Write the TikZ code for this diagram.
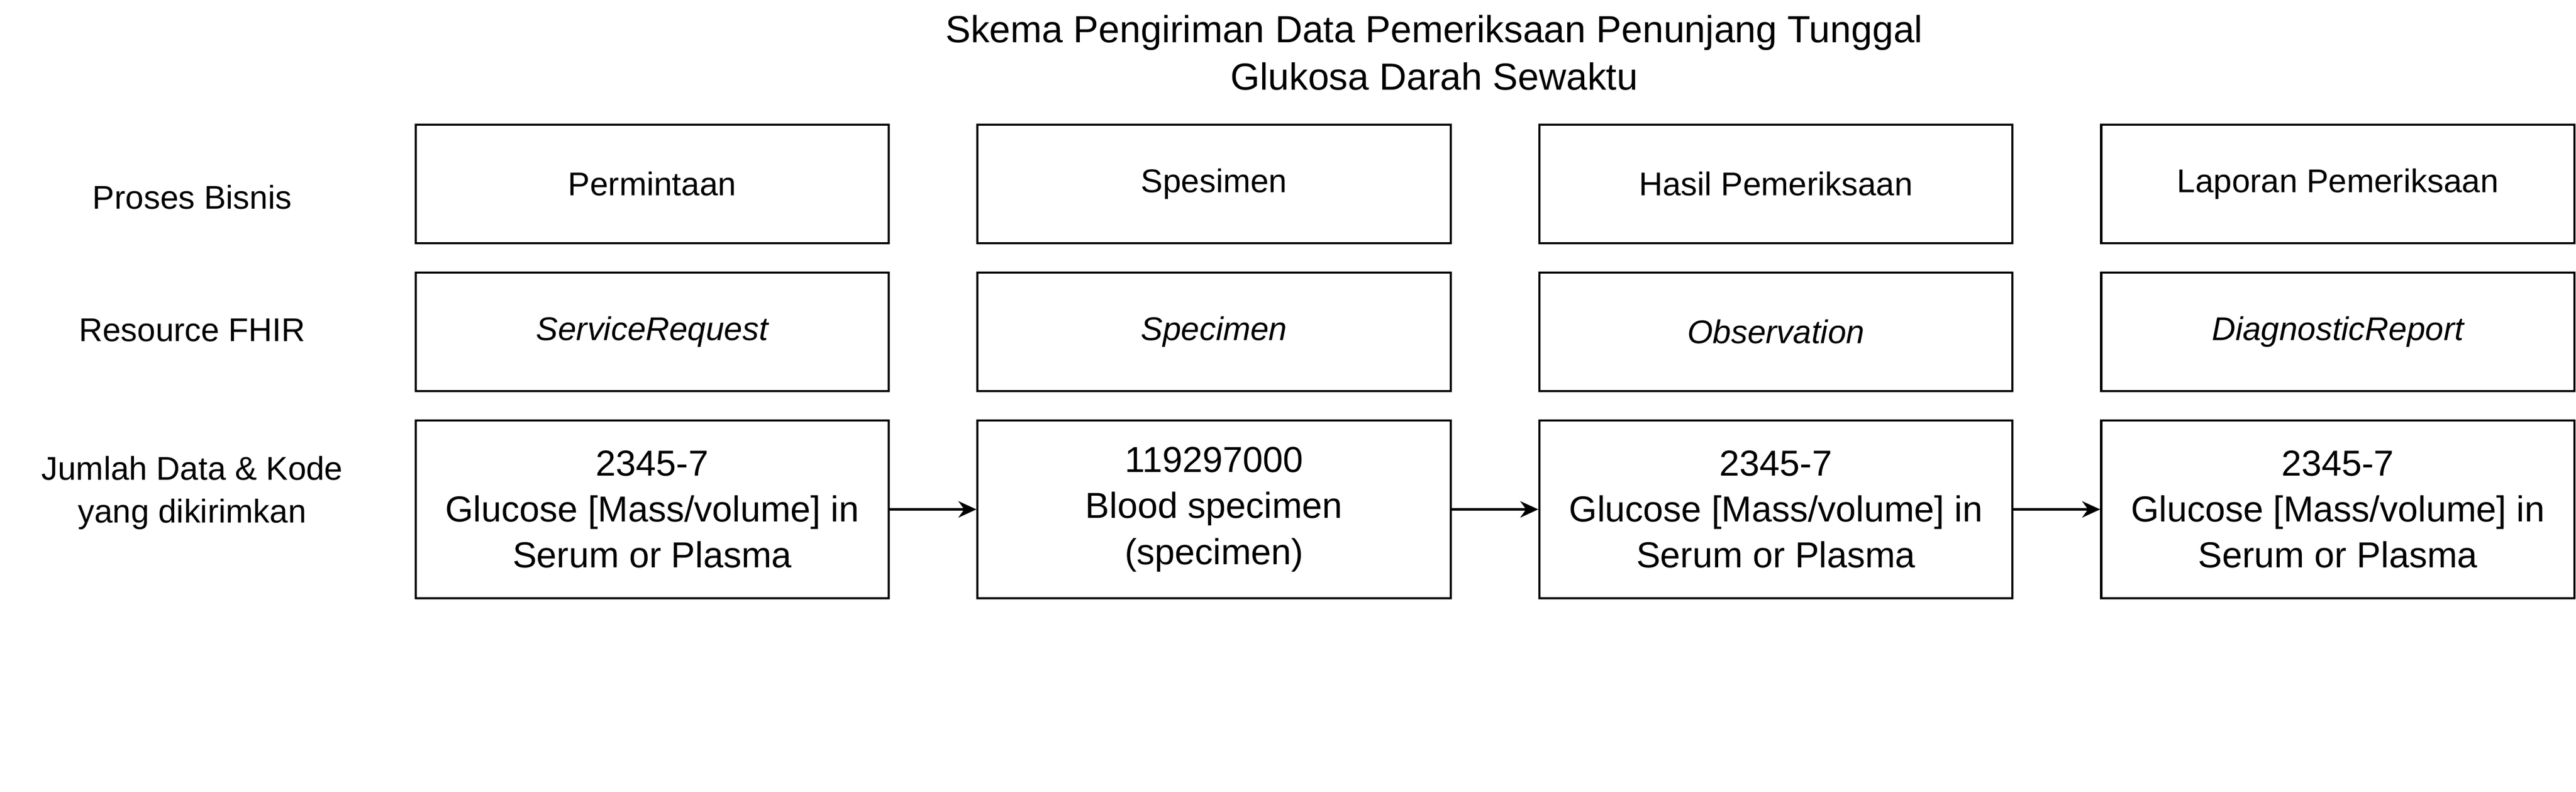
\documentclass[tikz,border=0pt]{standalone}
\usepackage{fontspec}
\setmainfont{Liberation Sans}
\usetikzlibrary{arrows.meta}
\begin{document}
\begin{tikzpicture}[x=1pt, y=-1pt,
        % styles
        cell/.style = {
                rectangle, draw=black, line width=1.3pt,
                minimum width=288pt, minimum height=72pt,
                text centered, font=\fontsize{20}{24}\selectfont
            },
        datacell/.style = {
                cell, minimum height=108pt, align=center,
                font=\fontsize{22}{28}\selectfont
            },
        rowlabel/.style = {
                align=center, font=\fontsize{20}{26}\selectfont
            },
        arrow/.style = {
                line width=1.3pt, -{Stealth[length=11pt,width=10pt]}
            }]
    \useasboundingbox (0,0) rectangle (1568,482);

    \node (title) [align=center, font=\fontsize{23}{29}\selectfont] at (873,32)
        {Skema Pengiriman Data Pemeriksaan Penunjang Tunggal\\Glukosa Darah Sewaktu};

    \node (lbl_proses) [rowlabel] at (117,120) {Proses Bisnis};
    \node (lbl_fhir) [rowlabel] at (117,201) {Resource FHIR};
    \node (lbl_data) [rowlabel] at (117,300) {Jumlah Data \& Kode\\yang dikirimkan};

    \node (req) [cell] at (397,112) {Permintaan};
    \node (spec) [cell] at (739,112) {Spesimen};
    \node (obs) [cell] at (1081,112) {Hasil Pemeriksaan};
    \node (rep) [cell] at (1423,112) {Laporan Pemeriksaan};

    \node (req_res) [cell] at (397,202) {\itshape ServiceRequest};
    \node (spec_res) [cell] at (739,202) {\itshape Specimen};
    \node (obs_res) [cell] at (1081,202) {\itshape Observation};
    \node (rep_res) [cell] at (1423,202) {\itshape DiagnosticReport};

    \node (req_code) [datacell] at (397,310) {2345-7\\Glucose [Mass/volume] in\\Serum or Plasma};
    \node (spec_code) [datacell] at (739,310) {119297000\\Blood specimen\\(specimen)};
    \node (obs_code) [datacell] at (1081,310) {2345-7\\Glucose [Mass/volume] in\\Serum or Plasma};
    \node (rep_code) [datacell] at (1423,310) {2345-7\\Glucose [Mass/volume] in\\Serum or Plasma};

    % arrows
    \draw [arrow] (req_code) -- (spec_code);
    \draw [arrow] (spec_code) -- (obs_code);
    \draw [arrow] (obs_code) -- (rep_code);

\end{tikzpicture}
\end{document}
